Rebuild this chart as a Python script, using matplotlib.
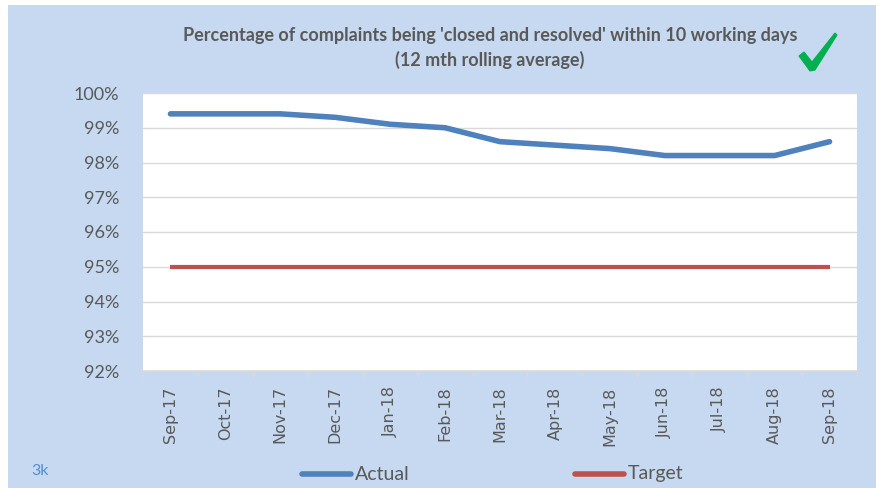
import matplotlib
matplotlib.use("Agg")
import matplotlib.pyplot as plt
from matplotlib.patches import Rectangle, Polygon
from matplotlib.lines import Line2D

months = ["Sep-17", "Oct-17", "Nov-17", "Dec-17", "Jan-18", "Feb-18", "Mar-18",
          "Apr-18", "May-18", "Jun-18", "Jul-18", "Aug-18", "Sep-18"]
actual = [99.4, 99.4, 99.4, 99.3, 99.1, 99.0, 98.6, 98.5, 98.4, 98.2, 98.2, 98.2, 98.6]
target = [95.0] * 13
y_ticks = [92, 93, 94, 95, 96, 97, 98, 99, 100]
y_tick_labels = [f"{v}%" for v in y_ticks]

W, H = 876, 488
fig = plt.figure(figsize=(W / 100, H / 100), dpi=100)
fig.patch.set_facecolor("white")
# light blue panel
fig.patches.append(Rectangle((8 / W, 0), (W - 8) / W, (H - 5) / H,
                             transform=fig.transFigure, facecolor="#C6D9F0",
                             edgecolor="none", zorder=-10))

left, right, top, bottom = 143, 857, 93, 371
ax = fig.add_axes([left / W, 1 - bottom / H, (right - left) / W, (bottom - top) / H])
ax.set_zorder(1)
ax.set_facecolor("white")
x = list(range(len(months)))
ax.plot(x, actual, color="#4F81BD", lw=4, solid_capstyle="round", zorder=3)
ax.plot(x, target, color="#C0504D", lw=3, solid_capstyle="butt", zorder=3)
ax.set_xlim(-0.5, len(months) - 0.5)
ax.set_ylim(92, 100)
ax.set_yticks(y_ticks)
ax.set_yticklabels(y_tick_labels, fontsize=13, color="#595959", family="Lato")
ax.yaxis.grid(True, color="#D9D9D9", lw=1)
ax.set_axisbelow(True)
ax.tick_params(axis="y", length=0, pad=17)
ax.set_xticks(x)
ax.set_xticklabels(months, rotation=90, fontsize=11.5, color="#595959")
ax.set_xticks([i - 0.5 for i in range(len(months) + 1)], minor=True)
ax.tick_params(axis="x", which="major", length=0, pad=11)
ax.tick_params(axis="x", which="minor", length=5, color="#D9D9D9", width=1)
for s in ["left", "right", "top"]:
    ax.spines[s].set_visible(False)
ax.spines["bottom"].set_color("#D9D9D9")
ax.spines["bottom"].set_linewidth(1.2)

fig.text(490 / W, 1 - 36 / H, "Percentage of complaints being 'closed and resolved' within 10 working days",
         ha="center", va="center", fontsize=13, fontweight="bold", color="#595959", family="Lato")
fig.text(490 / W, 1 - 60 / H, "(12 mth rolling average)",
         ha="center", va="center", fontsize=13, fontweight="bold", color="#595959", family="Lato")

# check mark (brush-like polygon, pixel coords converted to figure fraction)
check_px = [(799, 56), (804, 52), (812, 62), (835, 33), (837, 35), (815, 70), (810, 71)]
fig.patches.append(Polygon([(px / W, 1 - py / H) for px, py in check_px], closed=True,
                           transform=fig.transFigure, facecolor="#00B050",
                           edgecolor="#00B050", lw=0.8, zorder=5))

fig.text(40 / W, 1 - 471 / H, "3k", ha="center", va="center", fontsize=11.5,
         color="#558ED5", family="Lato")

fig.add_artist(Line2D([302 / W, 351 / W], [1 - 474 / H] * 2, transform=fig.transFigure,
                      color="#4F81BD", lw=4, solid_capstyle="round"))
fig.text(355 / W, 1 - 474 / H, "Actual", ha="left", va="center", fontsize=14,
         color="#595959", family="Lato")
fig.add_artist(Line2D([575 / W, 624 / W], [1 - 474 / H] * 2, transform=fig.transFigure,
                      color="#C0504D", lw=4, solid_capstyle="round"))
fig.text(628 / W, 1 - 474 / H, "Target", ha="left", va="center", fontsize=14,
         color="#595959", family="Lato")

fig.savefig("out.png", dpi=100)
